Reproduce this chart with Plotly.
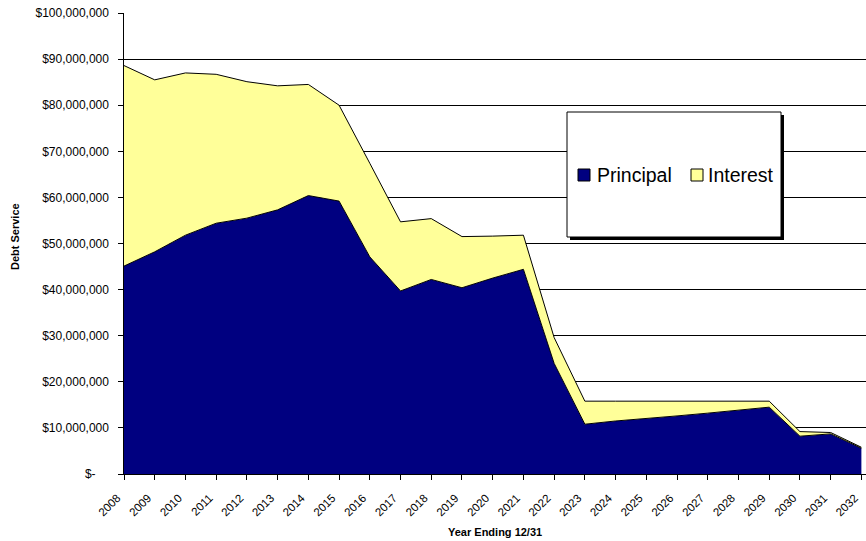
import plotly.graph_objects as go

years = list(range(2008, 2033))
principal = [45.1, 48.2, 51.8, 54.4, 55.5, 57.3, 60.4, 59.2, 47.1, 39.7, 42.2, 40.4, 42.5, 44.4,
             24.0, 10.8, 11.5, 12.0, 12.6, 13.2, 13.9, 14.5, 8.2, 8.7, 5.6]
total = [88.6, 85.5, 87.0, 86.7, 85.1, 84.2, 84.5, 80.0, 67.4, 54.7, 55.4, 51.5, 51.6, 51.8,
         29.6, 15.8, 15.8, 15.8, 15.8, 15.8, 15.8, 15.8, 9.2, 9.0, 5.8]
principal = [v * 1e6 for v in principal]
interest = [t * 1e6 - p for t, p in zip(total, principal)]

series_names = ["Principal", "Interest"]
series_colors = ["#000080", "#FFFF99"]

NB = "\u00a0"
ytick_vals = [i * 10_000_000 for i in range(11)]
ytick_text = ["$-" + NB * 6] + [f"${v:,}" + NB * 2 for v in ytick_vals[1:]]
xtick_text = [str(y) + NB * 3 for y in years]

W, H = 866, 541
L, T, B = 124, 13, 67
pw = W - L
ph = H - T - B

fig = go.Figure()
fig.add_trace(go.Scatter(x=years, y=principal, name=series_names[0], stackgroup="one",
                         mode="lines", line=dict(color="black", width=1),
                         fillcolor=series_colors[0], showlegend=False))
fig.add_trace(go.Scatter(x=years, y=interest, name=series_names[1], stackgroup="one",
                         mode="lines", line=dict(color="black", width=1),
                         fillcolor=series_colors[1], showlegend=False))


def px_x(x):
    return (x - L) / pw


def px_y(y):
    return (T + ph - y) / ph


shapes = [
    dict(type="rect", xref="paper", yref="paper",
         x0=px_x(570), x1=px_x(784), y0=px_y(240), y1=px_y(115),
         fillcolor="black", line=dict(width=0)),
    dict(type="rect", xref="paper", yref="paper",
         x0=px_x(567), x1=px_x(781), y0=px_y(237), y1=px_y(112),
         fillcolor="white", line=dict(color="black", width=1)),
]

annotations = [
    dict(text="<b>Year Ending 12/31</b>", xref="paper", yref="paper",
         x=px_x(495), y=px_y(532), showarrow=False, font=dict(size=11),
         xanchor="center", yanchor="middle"),
    dict(text="<b>Debt Service</b>", xref="paper", yref="paper",
         x=px_x(15), y=px_y(237), showarrow=False, font=dict(size=11),
         textangle=-90, xanchor="center", yanchor="middle"),
]

# legend entries (swatch + label)
legend_sw_x = [578, 691]
legend_tx_x = [596, 707]
for name, col, sx, tx in zip(series_names, series_colors, legend_sw_x, legend_tx_x):
    shapes.append(dict(type="rect", xref="paper", yref="paper",
                       x0=px_x(sx), x1=px_x(sx + 12), y0=px_y(181), y1=px_y(169),
                       fillcolor=col, line=dict(color="black", width=1)))
    annotations.append(dict(text=name, xref="paper", yref="paper", x=px_x(tx), y=px_y(175),
                            showarrow=False, xanchor="left", yanchor="middle",
                            font=dict(size=19.5), borderpad=0))

fig.update_layout(
    width=W, height=H,
    margin=dict(l=L, r=0, t=T, b=B),
    paper_bgcolor="white", plot_bgcolor="white",
    font=dict(family="Arial, Liberation Sans, sans-serif", size=12, color="black"),
    shapes=shapes,
    annotations=annotations,
    showlegend=False,
    xaxis=dict(range=[2008, 2032.15], tickvals=years, ticktext=xtick_text,
               tickangle=-45, ticks="outside", ticklen=5, tickcolor="black",
               showline=True, linecolor="black", linewidth=1, showgrid=False, zeroline=False,
               automargin=False, ticklabeloverflow="allow",
               tickfont=dict(size=11.5)),
    yaxis=dict(range=[0, 100_000_000], tickvals=ytick_vals, ticktext=ytick_text,
               ticks="outside", ticklen=5, tickcolor="black",
               showline=True, linecolor="black", linewidth=1,
               showgrid=True, gridcolor="black", gridwidth=1, zeroline=False,
               automargin=False, tickfont=dict(size=12)),
)

fig.write_html("out.html", config={"displayModeBar": False},
               post_script="document.body.style.margin='0';document.body.style.overflow='hidden';")
